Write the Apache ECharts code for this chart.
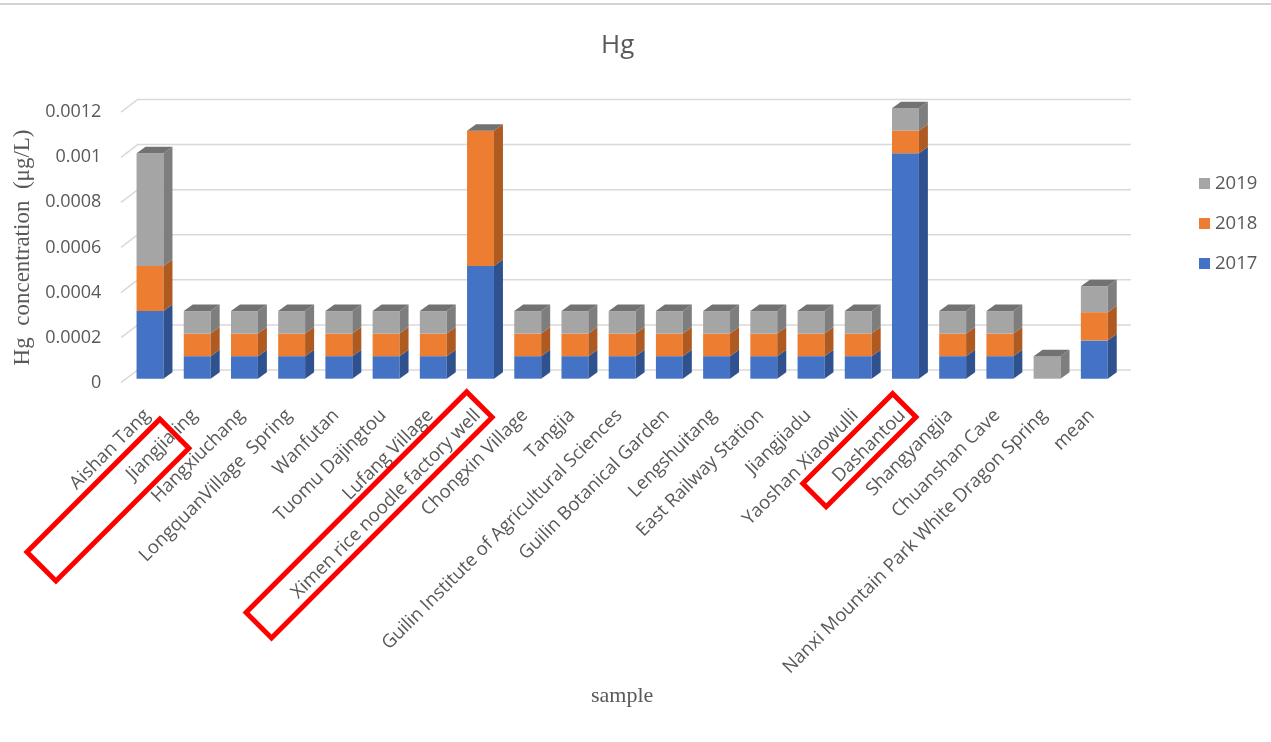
<!DOCTYPE html>
<html>
<head>
<meta charset="utf-8">
<title>Hg</title>
<script src="https://cdn.jsdelivr.net/npm/echarts@6/dist/echarts.min.js"></script>
<style>
  html, body { margin: 0; padding: 0; background: #ffffff; }
  #chart { width: 1271px; height: 742px; }
</style>
</head>
<body>
<div id="chart"></div>
<script>
// Sampling sites (x axis categories)
const categories = [
  'Aishan Tang', 'Jiangjiajing', 'Hangxiuchang', 'LongquanVillage  Spring', 'Wanfutan',
  'Tuomu Dajingtou', 'Lufang Village', 'Ximen rice noodle factory well', 'Chongxin Village', 'Tangjia',
  'Guilin Institute of Agricultural Sciences', 'Guilin Botanical Garden', 'Lengshuitang', 'East Railway Station', 'Jiangjiadu',
  'Yaoshan Xiaowulli', 'Dashantou', 'Shangyangjia', 'Chuanshan Cave', 'Nanxi Mountain Park White Dragon Spring',
  'mean'
];

// Hg concentration (µg/L) per year
const hg2017 = [0.0003, 0.0001, 0.0001, 0.0001, 0.0001, 0.0001, 0.0001, 0.0005, 0.0001, 0.0001,
                0.0001, 0.0001, 0.0001, 0.0001, 0.0001, 0.0001, 0.001, 0.0001, 0.0001, 0, 0.00017];
const hg2018 = [0.0002, 0.0001, 0.0001, 0.0001, 0.0001, 0.0001, 0.0001, 0.0006, 0.0001, 0.0001,
                0.0001, 0.0001, 0.0001, 0.0001, 0.0001, 0.0001, 0.0001, 0.0001, 0.0001, 0, 0.000125];
const hg2019 = [0.0005, 0.0001, 0.0001, 0.0001, 0.0001, 0.0001, 0.0001, 0, 0.0001, 0.0001,
                0.0001, 0.0001, 0.0001, 0.0001, 0.0001, 0.0001, 0.0001, 0.0001, 0.0001, 0.0001, 0.000115];

// Value axis ticks
const valueTicks = [0, 0.0002, 0.0004, 0.0006, 0.0008, 0.001, 0.0012];

const legendOrder = ['2019', '2018', '2017'];

// Face colours: front, side, top
const palette = {
  '2017': { front: '#4472C4', side: '#2F528F', top: '#2F528F' },
  '2018': { front: '#ED7D31', side: '#AE5A21', top: '#AE5A21' },
  '2019': { front: '#A5A5A5', side: '#7E7E7E', top: '#727272' }
};

// depth offsets of the pseudo-3D columns and of the back wall
const DEPTH_X = 9, DEPTH_Y = -6.5;
const WALL_BACK_X = 11.3, WALL_BACK_Y = -8.7;
const WALL_FRONT_X = -5.4, WALL_FRONT_Y = 4;
const BAR_RATIO = 0.57;

const TEXT_FONT = '"Open Sans", "Noto Sans", sans-serif';
const SERIF_FONT = '"Liberation Serif", "DejaVu Serif", serif';
const TEXT_COLOR = '#595959';

function stackedData(values, below) {
  return values.map((v, i) => {
    let base = 0;
    below.forEach(arr => { base += arr[i]; });
    return [i, v, base];
  });
}

function columnRenderer(name, isTopLayer) {
  const c = palette[name];
  return function (params, api) {
    const idx = api.value(0);
    const val = api.value(1);
    const base = api.value(2);
    const p0 = api.coord([idx, base]);
    const p1 = api.coord([idx, base + val]);
    const bw = api.size([1, 0])[0] * BAR_RATIO;
    const xl = p0[0] - bw / 2, xr = p0[0] + bw / 2;
    const yb = p0[1], yt = p1[1];
    const children = [];
    if (val > 0) {
      children.push({
        type: 'rect',
        shape: { x: xl, y: yt, width: bw, height: yb - yt },
        style: { fill: c.front }
      });
      children.push({
        type: 'polygon',
        shape: { points: [[xr, yb], [xr + DEPTH_X, yb + DEPTH_Y], [xr + DEPTH_X, yt + DEPTH_Y], [xr, yt]] },
        style: { fill: c.side }
      });
    }
    if (isTopLayer) {
      children.push({
        type: 'polygon',
        shape: { points: [[xl, yt], [xr, yt], [xr + DEPTH_X, yt + DEPTH_Y], [xl + DEPTH_X, yt + DEPTH_Y]] },
        style: { fill: c.top }
      });
    }
    return { type: 'group', children: children };
  };
}

function wallRenderer(params, api) {
  const cs = params.coordSys;
  const y = api.coord([0, api.value(1)])[1];
  return {
    type: 'polyline',
    shape: {
      points: [
        [cs.x + WALL_FRONT_X, y + WALL_FRONT_Y],
        [cs.x + WALL_BACK_X, y + WALL_BACK_Y],
        [cs.x + cs.width + 13, y + WALL_BACK_Y]
      ]
    },
    style: { stroke: '#d9d9d9', lineWidth: 1.5, fill: null }
  };
}

function tickLabel(v) {
  if (v === 0) return '0';
  return v.toFixed(4).replace(/0+$/, '');
}

const chart = echarts.init(document.getElementById('chart'), null, { renderer: 'canvas' });

const gridBox = { left: 126.4, right: 153.1, height: 270.5 };

const option = {
  animation: false,
  backgroundColor: '#ffffff',
  title: {
    text: 'Hg',
    left: 601,
    top: 33,
    padding: 0,
    textStyle: { fontFamily: TEXT_FONT, fontSize: 26, fontWeight: 'normal', color: TEXT_COLOR }
  },
  legend: {
    data: legendOrder,
    orient: 'vertical',
    left: 1199,
    top: 174,
    padding: 0,
    icon: 'rect',
    itemWidth: 11,
    itemHeight: 11,
    itemGap: 21,
    textStyle: { fontFamily: TEXT_FONT, fontSize: 18.5, color: TEXT_COLOR }
  },
  grid: [
    { left: gridBox.left, right: gridBox.right, top: 108.2, height: gridBox.height },
    { left: gridBox.left, right: gridBox.right, top: 112.2, height: gridBox.height }
  ],
  xAxis: [
    {
      type: 'category',
      gridIndex: 0,
      data: categories,
      axisLine: { show: false },
      axisTick: { show: false },
      axisLabel: {
        interval: 0,
        rotate: 45,
        margin: 31,
        padding: [0, 4, 0, 0],
        fontFamily: TEXT_FONT,
        fontSize: 18.5,
        color: TEXT_COLOR
      },
      name: 'sample',
      nameLocation: 'middle',
      nameGap: 307,
      nameTextStyle: { fontFamily: SERIF_FONT, fontSize: 22, color: TEXT_COLOR }
    },
    { type: 'category', gridIndex: 1, data: categories, show: false }
  ],
  yAxis: [
    {
      type: 'value', gridIndex: 0, min: 0, max: 0.0012, interval: 0.0002, show: false
    },
    {
      type: 'value', gridIndex: 1, min: 0, max: 0.0012, interval: 0.0002,
      axisLine: { show: false },
      axisTick: { show: false },
      splitLine: { show: false },
      axisLabel: {
        margin: 25,
        fontFamily: TEXT_FONT,
        fontSize: 18,
        color: TEXT_COLOR,
        formatter: tickLabel
      },
      name: 'Hg  concentration  (\u03bcg/L)',
      nameLocation: 'middle',
      nameGap: 92,
      nameTextStyle: { fontFamily: SERIF_FONT, fontSize: 23, color: TEXT_COLOR }
    }
  ],
  series: [
    {
      type: 'custom',
      name: 'wall',
      xAxisIndex: 0, yAxisIndex: 0,
      z: 1,
      silent: true,
      renderItem: wallRenderer,
      data: valueTicks.map(v => [0, v]),
      encode: { x: 0, y: 1 }
    },
    {
      type: 'custom',
      name: '2017',
      xAxisIndex: 0, yAxisIndex: 0,
      z: 3,
      itemStyle: { color: palette['2017'].front },
      renderItem: columnRenderer('2017', false),
      data: stackedData(hg2017, []),
      encode: { x: 0, y: 1 }
    },
    {
      type: 'custom',
      name: '2018',
      xAxisIndex: 0, yAxisIndex: 0,
      z: 3,
      itemStyle: { color: palette['2018'].front },
      renderItem: columnRenderer('2018', false),
      data: stackedData(hg2018, [hg2017]),
      encode: { x: 0, y: 1 }
    },
    {
      type: 'custom',
      name: '2019',
      xAxisIndex: 0, yAxisIndex: 0,
      z: 3,
      itemStyle: { color: palette['2019'].front },
      renderItem: columnRenderer('2019', true),
      data: stackedData(hg2019, [hg2017, hg2018]),
      encode: { x: 0, y: 1 }
    }
  ],
  graphic: [
    // thin rule along the top edge
    {
      type: 'line', z: 10,
      shape: { x1: 0, y1: 4, x2: 1271, y2: 4 },
      style: { stroke: '#d3d3d3', lineWidth: 2 }
    },
    // highlight boxes around selected site labels
    {
      type: 'rect', z: 10, x: 107.9, y: 500.1, rotation: Math.PI / 4,
      shape: { x: -94, y: -20.5, width: 188, height: 41 },
      style: { fill: null, stroke: '#ff0000', lineWidth: 5 }
    },
    {
      type: 'rect', z: 10, x: 369.1, y: 514.9, rotation: Math.PI / 4,
      shape: { x: -156, y: -18, width: 312, height: 36 },
      style: { fill: null, stroke: '#ff0000', lineWidth: 5 }
    },
    {
      type: 'rect', z: 10, x: 859.4, y: 450.2, rotation: Math.PI / 4,
      shape: { x: -63.5, y: -16.5, width: 127, height: 33 },
      style: { fill: null, stroke: '#ff0000', lineWidth: 5 }
    }
  ]
};

chart.setOption(option);
</script>
</body>
</html>
